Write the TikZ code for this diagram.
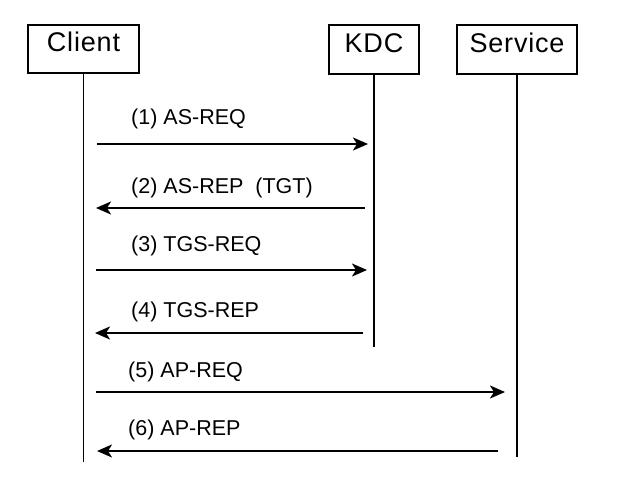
\documentclass[tikz,border=0pt]{standalone}
\usepackage{fontspec}
\setmainfont{Liberation Sans}
\newfontfamily\actorfont[LetterSpace=3]{Liberation Sans}
\usetikzlibrary{arrows.meta}
\begin{document}
\begin{tikzpicture}[x=1pt,y=-1pt,
  actor/.style={draw, line width=1.9pt, inner sep=0pt, text height=19pt, text depth=14pt, font=\actorfont\fontsize{27}{30}\selectfont},
  life/.style={line width=1.9pt},
  msg/.style={line width=1.9pt, -{Stealth[length=15pt,width=13pt,inset=4pt]}},
  lbl/.style={anchor=base west, inner sep=0pt, font=\fontsize{21.5}{24}\selectfont}]
\useasboundingbox (0,0) rectangle (640,480);
\fill[white] (0,0) rectangle (640,480);
% actors
\node[actor, minimum width=111pt, minimum height=48pt] (client) at (83.5,49) {Client};
\node[actor, minimum width=90pt, minimum height=49pt] (kdc) at (374,49.5) {KDC};
\node[actor, minimum width=120pt, minimum height=49pt] (service) at (517,49.5) {Service};
% lifeline ends
\coordinate (cEnd) at (83,462);
\coordinate (kEnd) at (375,347);
\coordinate (sEnd) at (517,457);
\draw[life] (client.south) -- (client.south |- cEnd);
\draw[life] (kdc.south) -- (kdc.south |- kEnd);
\draw[life] (service.south) -- (service.south |- sEnd);
% message end points
\coordinate (m1a) at (97,144);  \coordinate (m1b) at (368,144);
\coordinate (m2a) at (365,208); \coordinate (m2b) at (96,208);
\coordinate (m3a) at (96,270);  \coordinate (m3b) at (367,270);
\coordinate (m4a) at (363,333); \coordinate (m4b) at (95,333);
\coordinate (m5a) at (96,392);  \coordinate (m5b) at (505,392);
\coordinate (m6a) at (498,451); \coordinate (m6b) at (97,451);
\draw[msg] (m1a) -- (m1b);
\draw[msg] (m2a) -- (m2b);
\draw[msg] (m3a) -- (m3b);
\draw[msg] (m4a) -- (m4b);
\draw[msg] (m5a) -- (m5b);
\draw[msg] (m6a) -- (m6b);
% labels
\node[lbl] (l1) at (131,124) {(1) AS-REQ};
\node[lbl] (l2) at (131,193) {(2) AS-REP\ \ (TGT)};
\node[lbl] (l3) at (131,251) {(3) TGS-REQ};
\node[lbl] (l4) at (131,317) {(4) TGS-REP};
\node[lbl] (l5) at (128,377) {(5) AP-REQ};
\node[lbl] (l6) at (128,435) {(6) AP-REP};
\end{tikzpicture}
\end{document}
